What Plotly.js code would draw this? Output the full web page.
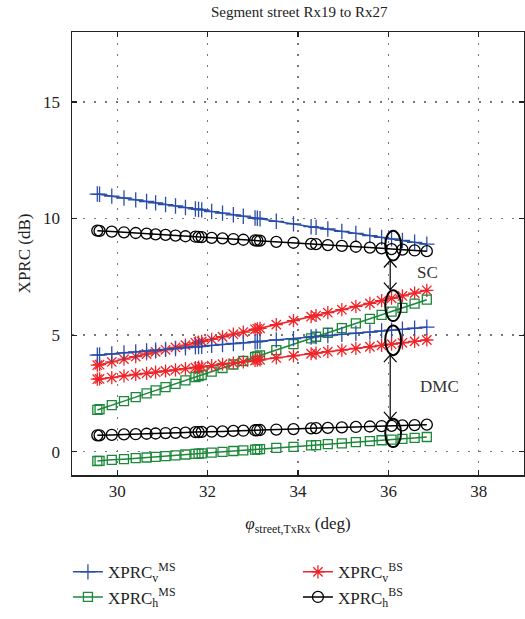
<!DOCTYPE html>
<html>
<head>
<meta charset="utf-8">
<script src="https://cdn.plot.ly/plotly-3.0.1.min.js"></script>
<style>html,body{margin:0;padding:0;background:#fff;}#chart{width:525px;height:619px;}</style>
</head>
<body>
<div id="chart"></div>
<script>
// angle phi_street,TxRx (deg)
const phi = [29.56, 29.61, 29.88, 30.15, 30.41, 30.65, 30.85, 31.07, 31.29, 31.51, 31.73, 31.80, 31.87, 32.09, 32.33, 32.57, 32.79, 33.05, 33.10, 33.16, 33.52, 33.90, 34.29, 34.40, 34.66, 34.97, 35.28, 35.59, 35.85, 36.07, 36.31, 36.58, 36.85];

// XPRC_v^MS (upper = SC, lower = DMC)
const msV_upper = [11.05, 11.04, 10.96, 10.88, 10.80, 10.73, 10.67, 10.60, 10.54, 10.47, 10.41, 10.39, 10.37, 10.30, 10.23, 10.16, 10.10, 10.02, 10.01, 9.99, 9.88, 9.77, 9.65, 9.62, 9.55, 9.45, 9.36, 9.27, 9.19, 9.13, 9.06, 8.98, 8.90];
const msV_lower = [4.14, 4.15, 4.19, 4.24, 4.28, 4.32, 4.35, 4.39, 4.42, 4.46, 4.50, 4.51, 4.52, 4.56, 4.60, 4.64, 4.67, 4.71, 4.72, 4.73, 4.79, 4.85, 4.92, 4.94, 4.98, 5.03, 5.08, 5.13, 5.18, 5.21, 5.25, 5.30, 5.34];
// XPRC_h^MS
const msH_upper = [1.79, 1.82, 2.00, 2.17, 2.34, 2.50, 2.63, 2.77, 2.91, 3.06, 3.20, 3.24, 3.29, 3.43, 3.59, 3.74, 3.89, 4.06, 4.09, 4.13, 4.36, 4.61, 4.86, 4.93, 5.10, 5.30, 5.50, 5.70, 5.87, 6.01, 6.17, 6.35, 6.52];
const msH_lower = [-0.40, -0.39, -0.35, -0.32, -0.28, -0.25, -0.22, -0.19, -0.16, -0.12, -0.09, -0.08, -0.07, -0.04, -0.01, 0.03, 0.06, 0.09, 0.10, 0.11, 0.16, 0.21, 0.27, 0.28, 0.32, 0.36, 0.41, 0.45, 0.49, 0.52, 0.55, 0.59, 0.63];
// XPRC_v^BS
const bsV_upper = [3.71, 3.73, 3.85, 3.97, 4.08, 4.19, 4.28, 4.37, 4.47, 4.57, 4.67, 4.70, 4.73, 4.82, 4.93, 5.04, 5.13, 5.25, 5.27, 5.29, 5.45, 5.62, 5.79, 5.84, 5.96, 6.09, 6.23, 6.36, 6.48, 6.58, 6.68, 6.80, 6.92];
const bsV_lower = [3.11, 3.12, 3.18, 3.25, 3.31, 3.36, 3.41, 3.46, 3.51, 3.56, 3.61, 3.63, 3.64, 3.69, 3.75, 3.80, 3.85, 3.91, 3.93, 3.94, 4.02, 4.11, 4.20, 4.23, 4.29, 4.36, 4.43, 4.50, 4.56, 4.61, 4.67, 4.73, 4.79];
// XPRC_h^BS
const bsH_upper = [9.48, 9.47, 9.44, 9.41, 9.38, 9.35, 9.32, 9.30, 9.27, 9.24, 9.22, 9.21, 9.20, 9.17, 9.15, 9.12, 9.09, 9.06, 9.05, 9.05, 9.00, 8.96, 8.91, 8.90, 8.86, 8.83, 8.79, 8.75, 8.72, 8.69, 8.67, 8.63, 8.60];
const bsH_lower = [0.70, 0.70, 0.72, 0.74, 0.75, 0.77, 0.78, 0.80, 0.81, 0.82, 0.84, 0.84, 0.85, 0.86, 0.87, 0.89, 0.90, 0.92, 0.92, 0.93, 0.95, 0.97, 1.00, 1.01, 1.02, 1.04, 1.06, 1.08, 1.10, 1.11, 1.13, 1.14, 1.16];

const names = ['XPRC<sub>v</sub><sup>MS</sup>', 'XPRC<sub>v</sub><sup>BS</sup>', 'XPRC<sub>h</sub><sup>MS</sup>', 'XPRC<sub>h</sub><sup>BS</sup>'];
const xTicks = [30, 32, 34, 36, 38];
const yTicks = [0, 5, 10, 15];

const FONT = 'Liberation Serif, Times New Roman, serif';
const BLUE = 'rgb(42,78,168)', RED = 'rgb(238,36,40)', GREEN = 'rgb(28,136,58)', BLACK = 'rgb(0,0,0)';

function tr(y, name, color, symbol, size, show, group) {
  return {
    x: phi, y: y, type: 'scatter', mode: 'lines+markers', name: name,
    legendgroup: group, showlegend: show,
    line: {color: color, width: 1.5},
    marker: {symbol: symbol, size: size, color: color, line: {color: color, width: 1.3}}
  };
}

const data = [
  tr(msV_upper, names[0], BLUE, 'cross-thin-open', 11, true, 'a'),
  tr(bsV_upper, names[1], RED, 'asterisk-open', 11, true, 'b'),
  tr(msH_upper, names[2], GREEN, 'square-open', 9, true, 'c'),
  tr(bsH_upper, names[3], BLACK, 'circle-open', 11, true, 'd'),
  tr(msV_lower, names[0], BLUE, 'cross-thin-open', 11, false, 'a'),
  tr(bsV_lower, names[1], RED, 'asterisk-open', 11, false, 'b'),
  tr(msH_lower, names[2], GREEN, 'square-open', 9, false, 'c'),
  tr(bsH_lower, names[3], BLACK, 'circle-open', 11, false, 'd')
];

const ax = 36.04;
function ell(y0, y1) {
  return {type: 'circle', xref: 'x', yref: 'y', x0: 35.93, x1: 36.28, y0: y0, y1: y1, line: {color: 'black', width: 2}};
}
function vline(y0, y1) {
  return {type: 'line', xref: 'x', yref: 'y', x0: ax, x1: ax, y0: y0, y1: y1, line: {color: 'black', width: 1.2}};
}
function chev(y, dir) {
  const dx = 0.14, dy = 0.3 * dir;
  return {type: 'path', xref: 'x', yref: 'y',
    path: 'M' + (ax - dx) + ',' + (y - dy) + ' L' + ax + ',' + y + ' L' + (ax + dx) + ',' + (y - dy),
    line: {color: 'black', width: 1.2}};
}

const layout = {
  width: 525, height: 619,
  margin: {l: 72, r: 1, t: 32, b: 144, autoexpand: false},
  paper_bgcolor: '#fff', plot_bgcolor: '#fff',
  font: {family: FONT, size: 16, color: '#222'},
  title: {text: 'Segment street Rx19 to Rx27', font: {family: FONT, size: 15, color: '#222'}, x: 0.57, xanchor: 'center', y: 0.99, yanchor: 'top'},
  xaxis: {
    range: [29, 39], tickvals: xTicks, ticktext: xTicks.map(String),
    ticks: 'inside', ticklen: 5, tickcolor: '#222', tickwidth: 1.2,
    showline: true, linecolor: '#222', linewidth: 1.5, mirror: 'ticks',
    showgrid: true, gridcolor: '#777', gridwidth: 1.3, griddash: '2px,9px',
    zeroline: false, tickfont: {family: FONT, size: 17, color: '#222'},
    title: {text: '<i>φ</i><sub>street,TxRx</sub> (deg)', font: {family: FONT, size: 17, color: '#222'}, standoff: 17}
  },
  yaxis: {
    range: [-1, 18], tickvals: yTicks, ticktext: yTicks.map(String),
    ticks: 'inside', ticklen: 5, tickcolor: '#222', tickwidth: 1.2, ticklabelstandoff: 7,
    showline: true, linecolor: '#222', linewidth: 1.5, mirror: 'ticks',
    showgrid: true, gridcolor: '#777', gridwidth: 1.3, griddash: '2px,9px',
    zeroline: false, tickfont: {family: FONT, size: 17, color: '#222'},
    title: {text: 'XPRC (dB)', font: {family: FONT, size: 17, color: '#222'}, standoff: 8}
  },
  showlegend: true,
  legend: {
    orientation: 'h', x: -0.009, xanchor: 'left', y: -0.179, yanchor: 'top',
    entrywidth: 185, entrywidthmode: 'pixels', traceorder: 'normal',
    font: {family: FONT, size: 17, color: '#222'}, bgcolor: 'rgba(0,0,0,0)'
  },
  shapes: [
    ell(8.2, 9.48), ell(5.6, 6.92), ell(4.14, 5.41), ell(0.2, 1.41),
    vline(6.95, 8.2), chev(8.2, 1), chev(6.95, -1),
    vline(1.41, 4.14), chev(4.14, 1), chev(1.41, -1)
  ],
  annotations: [
    {x: 36.87, y: 7.68, xref: 'x', yref: 'y', text: 'SC', showarrow: false, font: {family: FONT, size: 17, color: '#333'}},
    {x: 37.14, y: 2.81, xref: 'x', yref: 'y', text: 'DMC', showarrow: false, font: {family: FONT, size: 17, color: '#333'}}
  ]
};

Plotly.newPlot('chart', data, layout, {displayModeBar: false, staticPlot: true});
</script>
</body>
</html>
